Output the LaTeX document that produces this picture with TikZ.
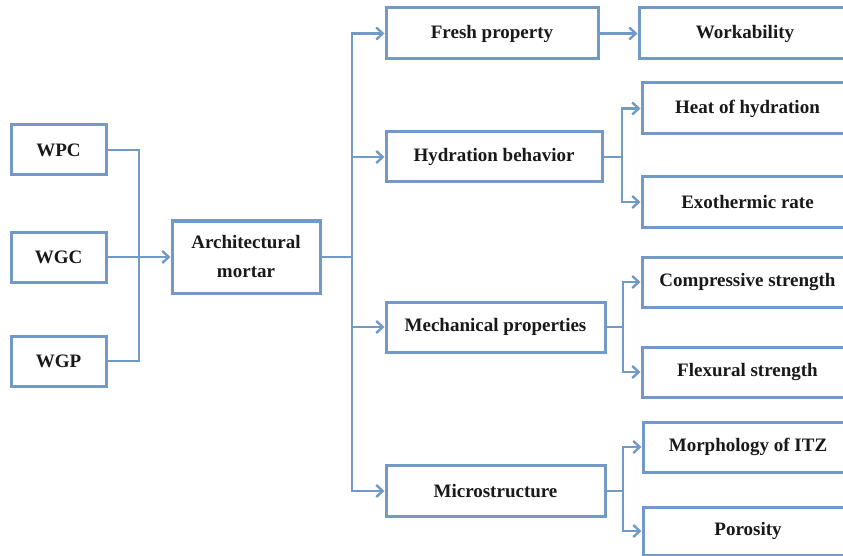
\documentclass[tikz,border=0pt]{standalone}
\usepackage{fontspec}
\setmainfont{Liberation Serif}
\usetikzlibrary{arrows.meta}
\definecolor{bl}{RGB}{114,153,199}
\begin{document}
\begin{tikzpicture}[x=1pt,y=-1pt,
  box/.style={draw=bl,line width=3pt,font=\fontsize{19}{29}\selectfont\bfseries,align=center,inner sep=0pt,text=black!90},
  conn/.style={draw=bl,line width=2.7pt},
  arr/.style={conn,-{Straight Barb[length=6.5pt,width=12pt,line width=2.4pt]}}]
\useasboundingbox (0,0) rectangle (843,556);
\fill[white] (0,0) rectangle (843,556);
\clip (0,0) rectangle (843,556);
% inputs
\node[box,minimum width=95,minimum height=50] (wpc) at (58.5,150) {WPC};
\node[box,minimum width=95,minimum height=50] (wgc) at (58.5,257) {WGC};
\node[box,minimum width=95,minimum height=50] (wgp) at (58.5,361) {WGP};
\node[box,minimum width=148,minimum height=72] (arch) at (246,257) {Architectural\\mortar};
% middle
\node[box,minimum width=212,minimum height=51] (fresh) at (492,33.5) {Fresh property};
\node[box,minimum width=216,minimum height=50] (hyd) at (494,157) {Hydration behavior};
\node[box,minimum width=219,minimum height=50] (mech) at (495.5,327) {Mechanical properties};
\node[box,minimum width=219,minimum height=51] (micro) at (495.5,491) {Microstructure};
% right
\node[box,minimum width=212,minimum height=51] (work) at (745,33.5) {Workability};
\node[box,minimum width=211,minimum height=51] (heat) at (747.5,108.5) {Heat of hydration};
\node[box,minimum width=211,minimum height=50] (exo) at (747.5,202) {Exothermic rate};
\node[box,minimum width=211,minimum height=50] (comp) at (747.5,282) {Compressive strength};
\node[box,minimum width=211,minimum height=50] (flex) at (747.5,372) {Flexural strength};
\node[box,minimum width=210,minimum height=50] (morph) at (748,447) {Morphology of ITZ};
\node[box,minimum width=210,minimum height=48] (poro) at (748,531) {Porosity};
% connectors left
\coordinate (j1) at (139,257);
\draw[conn] (wpc.east) -| (j1) |- (wgp.east);
\draw[arr] (wgc.east) -- (arch.west);
% trunk
\coordinate (j2) at (352,257);
\draw[conn] (arch.east) -- (j2);
\draw[arr] (j2) |- (fresh.west);
\draw[arr] (j2) |- (hyd.west);
\draw[arr] (j2) |- (mech.west);
\draw[arr] (j2) |- (micro.west);
\draw[arr] (fresh.east) -- (work.west);
% branches
\coordinate (j3) at (622,157);
\draw[conn] (hyd.east) -- (j3);
\draw[arr] (j3) |- (heat.west);
\draw[arr] (j3) |- (exo.west);
\coordinate (j4) at (623,327);
\draw[conn] (mech.east) -- (j4);
\draw[arr] (j4) |- (comp.west);
\draw[arr] (j4) |- (flex.west);
\coordinate (j5) at (623,491);
\draw[conn] (micro.east) -- (j5);
\draw[arr] (j5) |- (morph.west);
\draw[arr] (j5) |- (poro.west);
\end{tikzpicture}
\end{document}
